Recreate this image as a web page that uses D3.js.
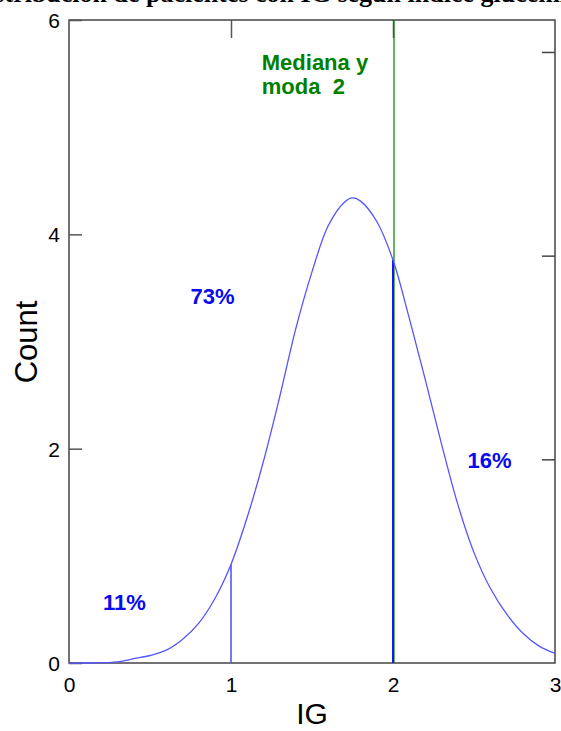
<!DOCTYPE html>
<html>
<head>
<meta charset="utf-8">
<script src="https://cdn.jsdelivr.net/npm/d3@7"></script>
<style>
  body { margin: 0; background: #fff; }
  text { font-family: Arial, "Liberation Sans", sans-serif; }
</style>
</head>
<body>
<div id="chartContainer"></div>
<script>
// curve
var igValues    = [0, 0.13, 0.3, 0.4, 0.5, 0.6, 0.7, 0.8, 0.9, 1.0, 1.1, 1.2, 1.3, 1.4, 1.5, 1.6, 1.7, 1.75, 1.8, 1.9, 2.0, 2.1, 2.2, 2.3, 2.4, 2.5, 2.6, 2.7, 2.8, 2.9, 3.0];
var countValues = [0, 0, 0.01, 0.04, 0.07, 0.12, 0.22, 0.37, 0.6, 0.92, 1.36, 1.88, 2.48, 3.12, 3.65, 4.08, 4.3, 4.34, 4.31, 4.12, 3.76, 3.22, 2.64, 2.04, 1.48, 1.03, 0.7, 0.46, 0.28, 0.16, 0.09];

var xTicks      = [0, 1, 2, 3];
var yTicks      = [0, 2, 4, 6];
var rightTicks  = [1, 2, 3];

var cutLines    = [{ig: 1, count: 0.92}, {ig: 2, count: 3.76}];
var median      = 2;

var pctLabels   = [{ig: 0.21, count: 0.49, text: "11%"}, {ig: 0.75, count: 3.35, text: "73%"}, {ig: 2.46, count: 1.82, text: "16%"}];
var medianText  = ["Mediana y", "moda\u00a0\u00a02"];
var titleText   = "Distribución de pacientes con IG según índice glucémico";

var data = igValues.map(function(v, i) { return {ig: v, count: countValues[i]}; });

var margin = {top: 20, right: 6, bottom: 68, left: 69},
    width  = 561 - margin.left - margin.right,
    height = 731 - margin.top - margin.bottom;

var root = d3.select("#chartContainer")
  .append("svg")
    .attr("width", 561)
    .attr("height", 731);

// title, mostly cut off at the top edge (as in the original)
root.append("text")
  .attr("x", 280).attr("y", 2)
  .attr("text-anchor", "middle")
  .style("font-family", "'Liberation Serif', 'Times New Roman', serif")
  .style("font-weight", "bold")
  .style("font-size", "26px")
  .text(titleText);

var svg = root.append("g")
  .attr("transform", "translate(" + margin.left + "," + margin.top + ")");

var x = d3.scaleLinear().domain([0, 3]).range([0, width]);
var y = d3.scaleLinear().domain([0, 6]).range([height, 0]);
var yRight = d3.scaleLinear().domain([0, 3.157]).range([height, 0]);

// frame
svg.append("rect")
  .attr("width", width).attr("height", height)
  .attr("fill", "none").attr("stroke", "#444").attr("stroke-width", 1.5);

// bottom axis (labels only)
var xAxis = svg.append("g")
  .attr("transform", "translate(0," + height + ")")
  .call(d3.axisBottom(x).tickValues(xTicks).tickSize(0).tickPadding(14).tickFormat(d3.format("d")));
xAxis.select(".domain").remove();
xAxis.selectAll("text").style("font-size", "21px").attr("fill", "#000");

// left axis, ticks pointing in
var yAxis = svg.append("g")
  .call(d3.axisLeft(y).tickValues(yTicks).tickSizeInner(-13).tickSizeOuter(0).tickPadding(9).tickFormat(d3.format("d")));
yAxis.select(".domain").remove();
yAxis.selectAll("line").attr("stroke", "#555").attr("stroke-width", 1.5);
yAxis.selectAll("text").style("font-size", "21px").attr("fill", "#000").attr("dy", "0.36em");

// right axis, unlabelled
var rAxis = svg.append("g")
  .attr("transform", "translate(" + width + ",0)")
  .call(d3.axisRight(yRight).tickValues(rightTicks).tickSizeInner(-13).tickSizeOuter(0).tickFormat(""));
rAxis.select(".domain").remove();
rAxis.selectAll("line").attr("stroke", "#444").attr("stroke-width", 1.5);

// top axis, unlabelled
var tAxis = svg.append("g")
  .call(d3.axisTop(x).tickValues([1, 2]).tickSizeInner(-18).tickSizeOuter(0).tickFormat(""));
tAxis.select(".domain").remove();
tAxis.selectAll("line").attr("stroke", "#555").attr("stroke-width", 1.5);

// axis titles
root.append("text")
  .attr("x", margin.left + x(1.5)).attr("y", 724)
  .attr("text-anchor", "middle")
  .style("font-size", "30px")
  .text("IG");

root.append("text")
  .attr("transform", "translate(37,342) rotate(-90)")
  .attr("text-anchor", "middle")
  .style("font-size", "31px")
  .text("Count");

// median line
svg.append("line")
  .attr("x1", x(median) + 1).attr("x2", x(median) + 1)
  .attr("y1", y(6)).attr("y2", y(0))
  .attr("stroke", "#008000").attr("stroke-width", 1.2);

// cut lines under the curve
svg.selectAll(".cut")
  .data(cutLines)
  .enter().append("line")
    .attr("class", "cut")
    .attr("x1", function(d) { return x(d.ig); })
    .attr("x2", function(d) { return x(d.ig); })
    .attr("y1", function(d) { return y(d.count); })
    .attr("y2", y(0))
    .attr("stroke", function(d, i) { return i == 0 ? "#4848ff" : "#1414ff"; })
    .attr("stroke-width", function(d, i) { return i == 0 ? 1.5 : 2; });

// the curve
svg.append("path")
  .datum(data)
  .attr("fill", "none")
  .attr("stroke", "#5555ff")
  .attr("stroke-width", 1.3)
  .attr("d", d3.line()
    .curve(d3.curveCatmullRom.alpha(0.5))
    .x(function(d) { return x(d.ig); })
    .y(function(d) { return y(d.count); }));

// percentages
svg.selectAll(".pct")
  .data(pctLabels)
  .enter().append("text")
    .attr("class", "pct")
    .attr("x", function(d) { return x(d.ig); })
    .attr("y", function(d) { return y(d.count); })
    .attr("fill", "#0a0aee")
    .style("font-weight", "bold")
    .style("font-size", "22px")
    .text(function(d) { return d.text; });

// median label
svg.selectAll(".med")
  .data(medianText)
  .enter().append("text")
    .attr("class", "med")
    .attr("x", x(1.19))
    .attr("y", function(d, i) { return 50 + i * 24; })
    .attr("fill", "#008000")
    .style("font-weight", "bold")
    .style("font-size", "22px")
    .text(function(d) { return d; });
</script>
</body>
</html>
